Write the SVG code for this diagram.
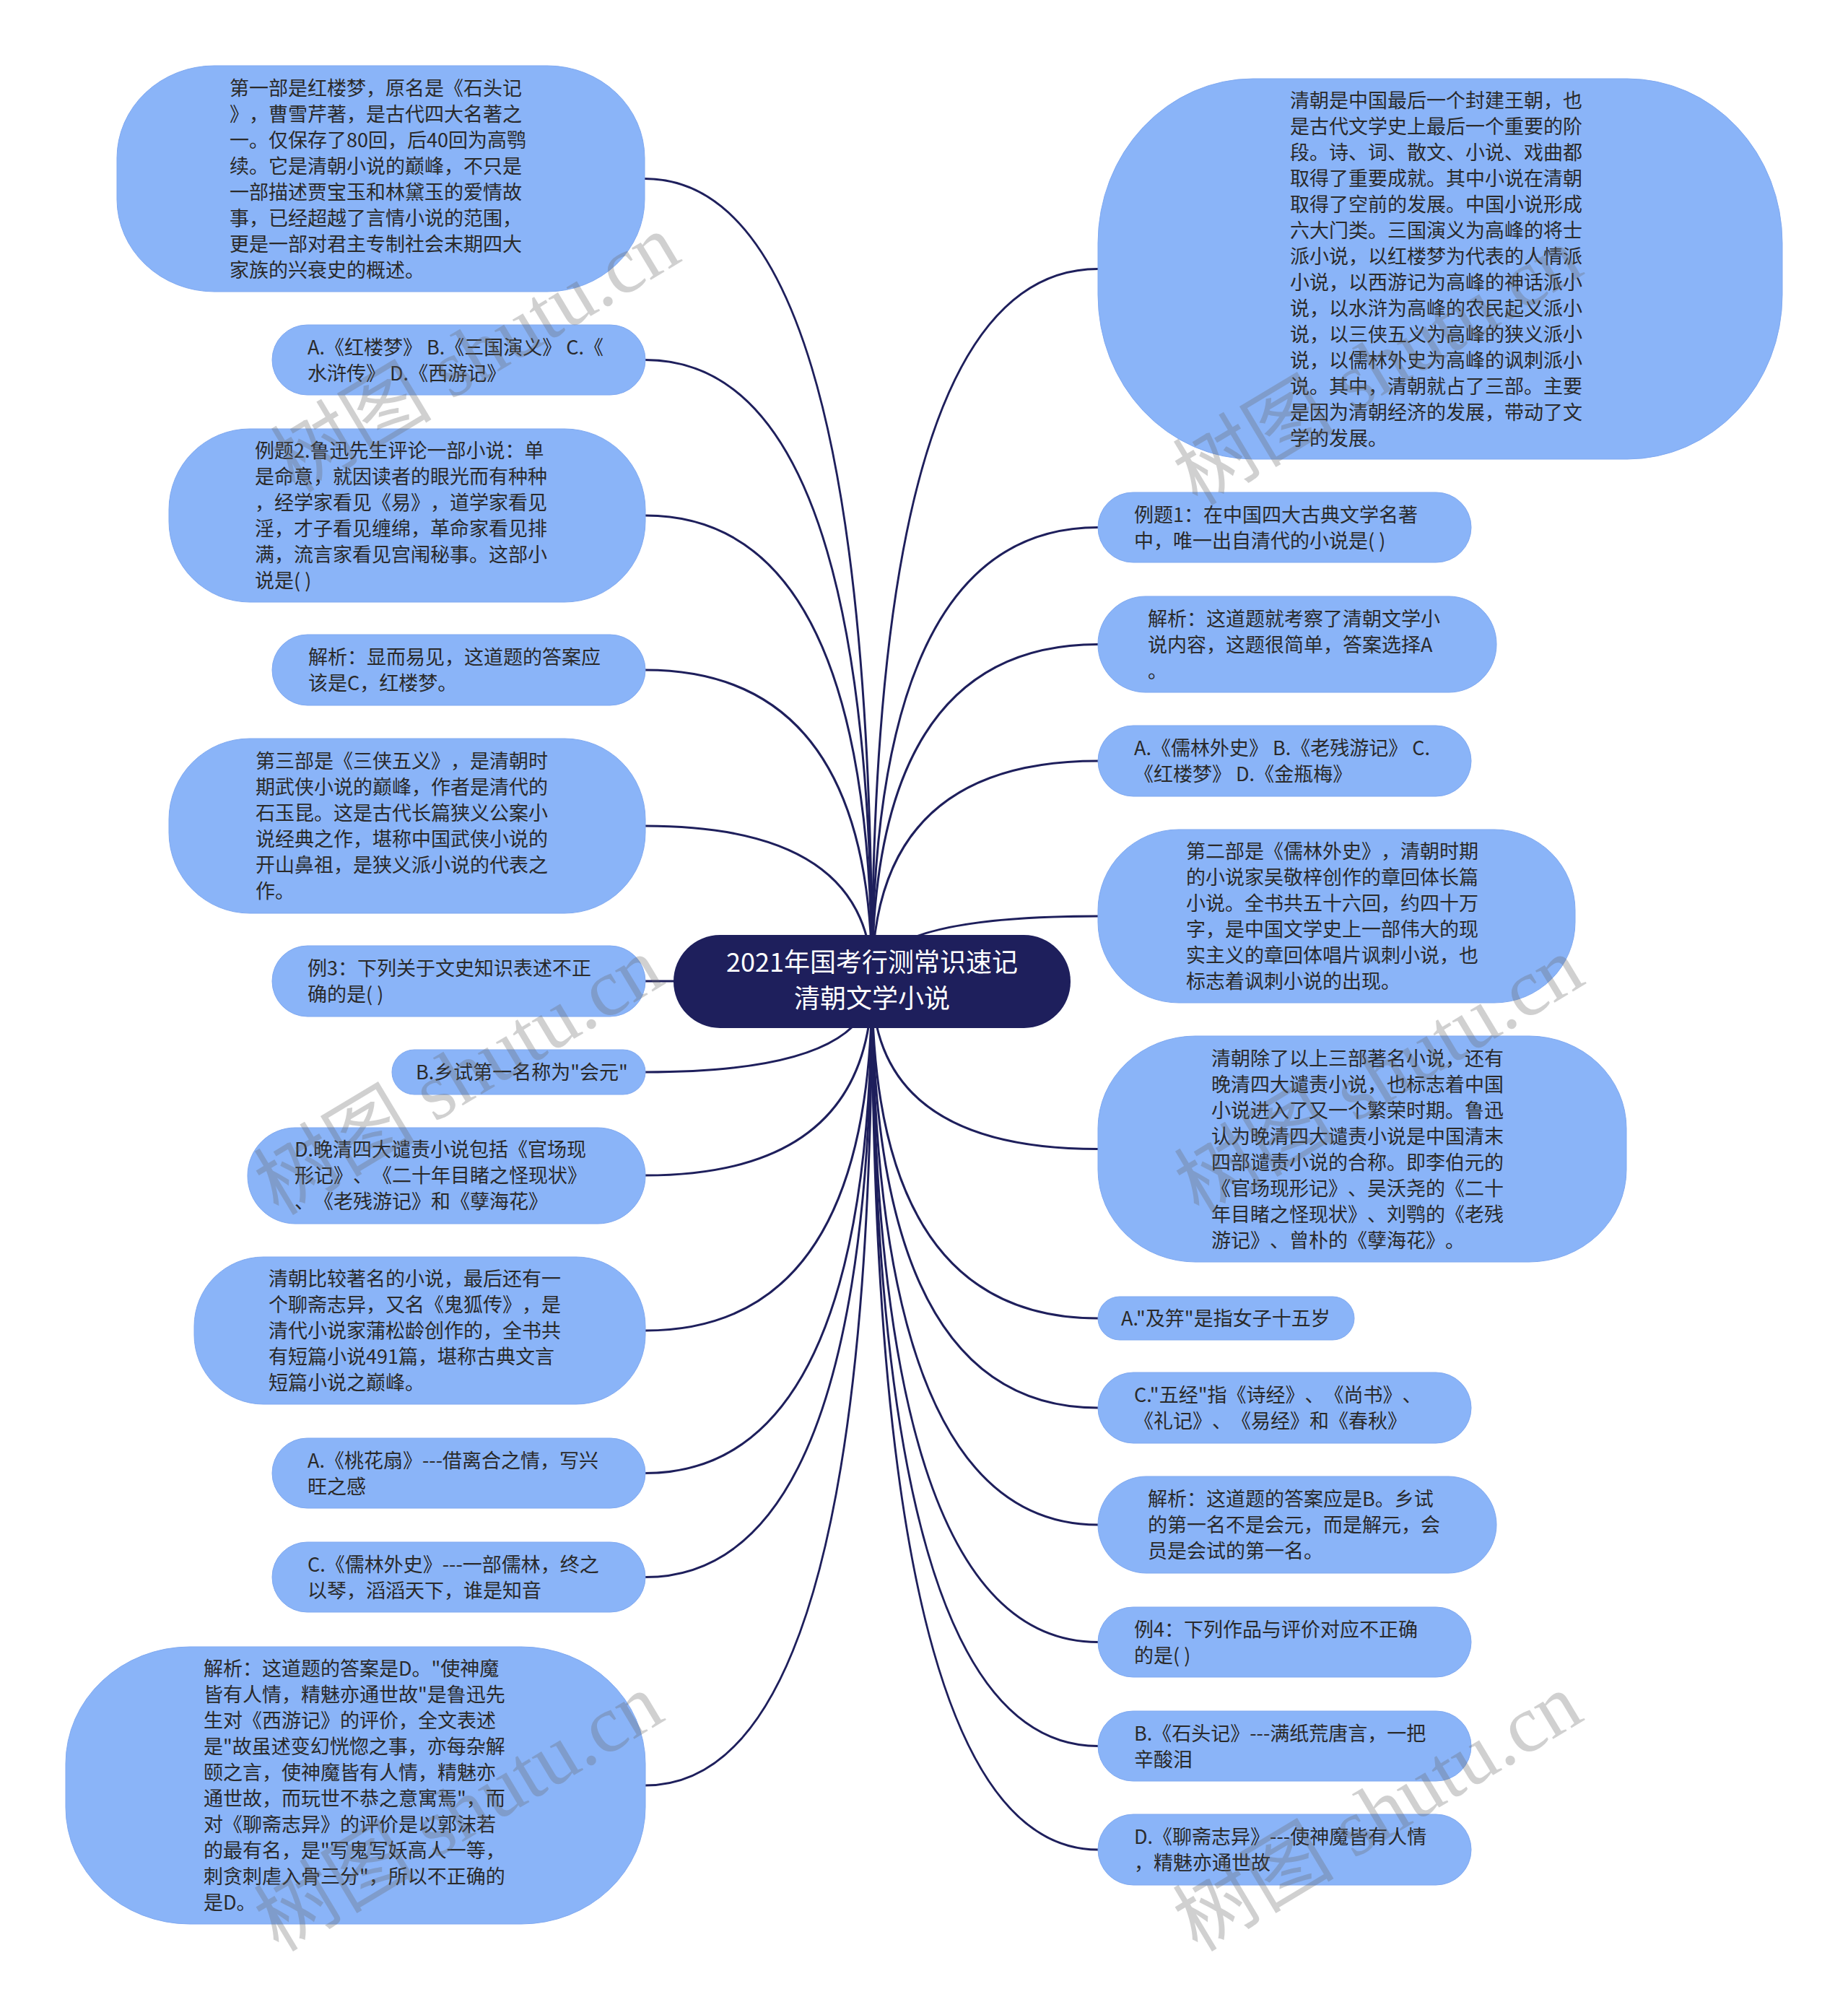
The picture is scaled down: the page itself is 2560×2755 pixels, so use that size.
<svg xmlns="http://www.w3.org/2000/svg" width="2560" height="2755" viewBox="0 0 2560 2755">
<style>
.node{fill:#8AB4F8;stroke:#80A9F0;stroke-width:1}
.t{font-family:"Noto Sans CJK SC","Liberation Sans",sans-serif;font-size:27px;fill:#2A2A2A;text-spacing-trim:space-all}
.root{fill:#1E1F5C}
.ct{font-family:"Noto Sans CJK SC","Liberation Sans",sans-serif;font-size:36px;fill:#FFFFFF;text-anchor:middle}
.edge{fill:none;stroke:#1E1F5C;stroke-width:3}
.wm{font-family:"Liberation Serif","Noto Sans CJK SC",serif;font-size:112px;fill:#666;opacity:0.3;text-anchor:middle}
</style>
<rect width="2560" height="2755" fill="#FFFFFF"/>
<g id="connectors">
<path class="edge" d="M1208 1359 Q1208 247.5 893 247.5"/>
<path class="edge" d="M1208 1359 Q1208 498.5 894 498.5"/>
<path class="edge" d="M1208 1359 Q1208 714 894 714"/>
<path class="edge" d="M1208 1359 Q1208 928 894 928"/>
<path class="edge" d="M1208 1359 Q1208 1144 894 1144"/>
<path class="edge" d="M1208 1359 Q1208 1359 894 1359"/>
<path class="edge" d="M1208 1359 Q1208 1485 894 1485"/>
<path class="edge" d="M1208 1359 Q1208 1628 894 1628"/>
<path class="edge" d="M1208 1359 Q1208 1843 894 1843"/>
<path class="edge" d="M1208 1359 Q1208 2040.5 894 2040.5"/>
<path class="edge" d="M1208 1359 Q1208 2184.5 894 2184.5"/>
<path class="edge" d="M1208 1359 Q1208 2473 894 2473"/>
<path class="edge" d="M1208 1359 Q1208 372.5 1521 372.5"/>
<path class="edge" d="M1208 1359 Q1208 730.5 1521 730.5"/>
<path class="edge" d="M1208 1359 Q1208 892.5 1521 892.5"/>
<path class="edge" d="M1208 1359 Q1208 1054 1521 1054"/>
<path class="edge" d="M1208 1359 Q1208 1269 1521 1269"/>
<path class="edge" d="M1208 1359 Q1208 1591.5 1521 1591.5"/>
<path class="edge" d="M1208 1359 Q1208 1826 1521 1826"/>
<path class="edge" d="M1208 1359 Q1208 1950 1521 1950"/>
<path class="edge" d="M1208 1359 Q1208 2112 1521 2112"/>
<path class="edge" d="M1208 1359 Q1208 2274.5 1521 2274.5"/>
<path class="edge" d="M1208 1359 Q1208 2418.5 1521 2418.5"/>
<path class="edge" d="M1208 1359 Q1208 2562 1521 2562"/>
</g>
<g id="root">
<rect class="root" x="933" y="1295" width="550" height="129" rx="64.5"/>
<text class="ct"><tspan x="1208" y="1346">2021年国考行测常识速记</tspan><tspan x="1208" y="1396">清朝文学小说</tspan></text>
</g>
<g id="L1">
<rect class="node" x="162" y="91" width="731" height="313" rx="135" ry="128"/>
<text class="t"><tspan x="318" y="131.5">第一部是红楼梦，原名是《石头记</tspan><tspan x="318" y="167.5">》，曹雪芹著，是古代四大名著之</tspan><tspan x="318" y="203.5">一。仅保存了80回，后40回为高鹗</tspan><tspan x="318" y="239.5">续。它是清朝小说的巅峰，不只是</tspan><tspan x="318" y="275.5">一部描述贾宝玉和林黛玉的爱情故</tspan><tspan x="318" y="311.5">事，已经超越了言情小说的范围，</tspan><tspan x="318" y="347.5">更是一部对君主专制社会末期四大</tspan><tspan x="318" y="383.5">家族的兴衰史的概述。</tspan></text>
</g>
<g id="L2">
<rect class="node" x="377" y="450" width="517" height="97" rx="48.5"/>
<text class="t"><tspan x="426" y="490.5">A.《红楼梦》 B.《三国演义》 C.《</tspan><tspan x="426" y="526.5">水浒传》 D.《西游记》</tspan></text>
</g>
<g id="L3">
<rect class="node" x="234" y="594" width="660" height="240" rx="112"/>
<text class="t"><tspan x="353" y="634">例题2.鲁迅先生评论一部小说：单</tspan><tspan x="353" y="670">是命意，就因读者的眼光而有种种</tspan><tspan x="353" y="706">，经学家看见《易》，道学家看见</tspan><tspan x="353" y="742">淫，才子看见缠绵，革命家看见排</tspan><tspan x="353" y="778">满，流言家看见宫闱秘事。这部小</tspan><tspan x="353" y="814">说是( )</tspan></text>
</g>
<g id="L4">
<rect class="node" x="377" y="879" width="517" height="98" rx="49"/>
<text class="t"><tspan x="427" y="920">解析：显而易见，这道题的答案应</tspan><tspan x="427" y="956">该是C，红楼梦。</tspan></text>
</g>
<g id="L5">
<rect class="node" x="234" y="1023" width="660" height="242" rx="112"/>
<text class="t"><tspan x="354" y="1064">第三部是《三侠五义》，是清朝时</tspan><tspan x="354" y="1100">期武侠小说的巅峰，作者是清代的</tspan><tspan x="354" y="1136">石玉昆。这是古代长篇狭义公案小</tspan><tspan x="354" y="1172">说经典之作，堪称中国武侠小说的</tspan><tspan x="354" y="1208">开山鼻祖，是狭义派小说的代表之</tspan><tspan x="354" y="1244">作。</tspan></text>
</g>
<g id="L6">
<rect class="node" x="377" y="1310" width="517" height="98" rx="49"/>
<text class="t"><tspan x="426" y="1351">例3：下列关于文史知识表述不正</tspan><tspan x="426" y="1387">确的是( )</tspan></text>
</g>
<g id="L7">
<rect class="node" x="543" y="1454" width="351" height="62" rx="31"/>
<text class="t"><tspan x="576" y="1495">B.乡试第一名称为"会元"</tspan></text>
</g>
<g id="L8">
<rect class="node" x="343" y="1562" width="551" height="133" rx="66"/>
<text class="t"><tspan x="408" y="1602">D.晚清四大谴责小说包括《官场现</tspan><tspan x="408" y="1638">形记》、《二十年目睹之怪现状》</tspan><tspan x="408" y="1674">、《老残游记》和《孽海花》</tspan></text>
</g>
<g id="L9">
<rect class="node" x="269" y="1741" width="625" height="204" rx="96"/>
<text class="t"><tspan x="372" y="1781">清朝比较著名的小说，最后还有一</tspan><tspan x="372" y="1817">个聊斋志异，又名《鬼狐传》，是</tspan><tspan x="372" y="1853">清代小说家蒲松龄创作的，全书共</tspan><tspan x="372" y="1889">有短篇小说491篇，堪称古典文言</tspan><tspan x="372" y="1925">短篇小说之巅峰。</tspan></text>
</g>
<g id="L10">
<rect class="node" x="377" y="1992" width="517" height="97" rx="48.5"/>
<text class="t"><tspan x="426" y="2032.5">A.《桃花扇》---借离合之情，写兴</tspan><tspan x="426" y="2068.5">旺之感</tspan></text>
</g>
<g id="L11">
<rect class="node" x="377" y="2136" width="517" height="97" rx="48.5"/>
<text class="t"><tspan x="426" y="2176.5">C.《儒林外史》---一部儒林，终之</tspan><tspan x="426" y="2212.5">以琴，滔滔天下，谁是知音</tspan></text>
</g>
<g id="L12">
<rect class="node" x="91" y="2281" width="803" height="384" rx="172" ry="162"/>
<text class="t"><tspan x="282" y="2321">解析：这道题的答案是D。"使神魔</tspan><tspan x="282" y="2357">皆有人情，精魅亦通世故"是鲁迅先</tspan><tspan x="282" y="2393">生对《西游记》的评价，全文表述</tspan><tspan x="282" y="2429">是"故虽述变幻恍惚之事，亦每杂解</tspan><tspan x="282" y="2465">颐之言，使神魔皆有人情，精魅亦</tspan><tspan x="282" y="2501">通世故，而玩世不恭之意寓焉"，而</tspan><tspan x="282" y="2537">对《聊斋志异》的评价是以郭沫若</tspan><tspan x="282" y="2573">的最有名，是"写鬼写妖高人一等，</tspan><tspan x="282" y="2609">刺贪刺虐入骨三分"，所以不正确的</tspan><tspan x="282" y="2645">是D。</tspan></text>
</g>
<g id="R1">
<rect class="node" x="1521" y="109" width="948" height="527" rx="215" ry="228"/>
<text class="t"><tspan x="1787" y="148.5">清朝是中国最后一个封建王朝，也</tspan><tspan x="1787" y="184.5">是古代文学史上最后一个重要的阶</tspan><tspan x="1787" y="220.5">段。诗、词、散文、小说、戏曲都</tspan><tspan x="1787" y="256.5">取得了重要成就。其中小说在清朝</tspan><tspan x="1787" y="292.5">取得了空前的发展。中国小说形成</tspan><tspan x="1787" y="328.5">六大门类。三国演义为高峰的将士</tspan><tspan x="1787" y="364.5">派小说，以红楼梦为代表的人情派</tspan><tspan x="1787" y="400.5">小说，以西游记为高峰的神话派小</tspan><tspan x="1787" y="436.5">说，以水浒为高峰的农民起义派小</tspan><tspan x="1787" y="472.5">说，以三侠五义为高峰的狭义派小</tspan><tspan x="1787" y="508.5">说，以儒林外史为高峰的讽刺派小</tspan><tspan x="1787" y="544.5">说。其中，清朝就占了三部。主要</tspan><tspan x="1787" y="580.5">是因为清朝经济的发展，带动了文</tspan><tspan x="1787" y="616.5">学的发展。</tspan></text>
</g>
<g id="R2">
<rect class="node" x="1521" y="682" width="517" height="97" rx="48.5"/>
<text class="t"><tspan x="1571" y="722.5">例题1：在中国四大古典文学名著</tspan><tspan x="1571" y="758.5">中，唯一出自清代的小说是( )</tspan></text>
</g>
<g id="R3">
<rect class="node" x="1521" y="826" width="552" height="133" rx="66"/>
<text class="t"><tspan x="1590" y="866.5">解析：这道题就考察了清朝文学小</tspan><tspan x="1590" y="902.5">说内容，这题很简单，答案选择A</tspan><tspan x="1590" y="938.5">。</tspan></text>
</g>
<g id="R4">
<rect class="node" x="1521" y="1005" width="517" height="98" rx="49"/>
<text class="t"><tspan x="1571" y="1046">A.《儒林外史》 B.《老残游记》 C.</tspan><tspan x="1571" y="1082">《红楼梦》 D.《金瓶梅》</tspan></text>
</g>
<g id="R5">
<rect class="node" x="1521" y="1149" width="661" height="240" rx="112"/>
<text class="t"><tspan x="1643" y="1189">第二部是《儒林外史》，清朝时期</tspan><tspan x="1643" y="1225">的小说家吴敬梓创作的章回体长篇</tspan><tspan x="1643" y="1261">小说。全书共五十六回，约四十万</tspan><tspan x="1643" y="1297">字，是中国文学史上一部伟大的现</tspan><tspan x="1643" y="1333">实主义的章回体唱片讽刺小说，也</tspan><tspan x="1643" y="1369">标志着讽刺小说的出现。</tspan></text>
</g>
<g id="R6">
<rect class="node" x="1521" y="1435" width="732" height="313" rx="135" ry="128"/>
<text class="t"><tspan x="1678" y="1475.5">清朝除了以上三部著名小说，还有</tspan><tspan x="1678" y="1511.5">晚清四大谴责小说，也标志着中国</tspan><tspan x="1678" y="1547.5">小说进入了又一个繁荣时期。鲁迅</tspan><tspan x="1678" y="1583.5">认为晚清四大谴责小说是中国清末</tspan><tspan x="1678" y="1619.5">四部谴责小说的合称。即李伯元的</tspan><tspan x="1678" y="1655.5">《官场现形记》、吴沃尧的《二十</tspan><tspan x="1678" y="1691.5">年目睹之怪现状》、刘鹗的《老残</tspan><tspan x="1678" y="1727.5">游记》、曾朴的《孽海花》。</tspan></text>
</g>
<g id="R7">
<rect class="node" x="1521" y="1796" width="355" height="60" rx="30"/>
<text class="t"><tspan x="1553" y="1836">A."及笄"是指女子十五岁</tspan></text>
</g>
<g id="R8">
<rect class="node" x="1521" y="1901" width="517" height="98" rx="49"/>
<text class="t"><tspan x="1571" y="1942">C."五经"指《诗经》、《尚书》、</tspan><tspan x="1571" y="1978">《礼记》、《易经》和《春秋》</tspan></text>
</g>
<g id="R9">
<rect class="node" x="1521" y="2045" width="552" height="134" rx="67"/>
<text class="t"><tspan x="1590" y="2086">解析：这道题的答案应是B。乡试</tspan><tspan x="1590" y="2122">的第一名不是会元，而是解元，会</tspan><tspan x="1590" y="2158">员是会试的第一名。</tspan></text>
</g>
<g id="R10">
<rect class="node" x="1521" y="2226" width="517" height="97" rx="48.5"/>
<text class="t"><tspan x="1571" y="2266.5">例4：下列作品与评价对应不正确</tspan><tspan x="1571" y="2302.5">的是( )</tspan></text>
</g>
<g id="R11">
<rect class="node" x="1521" y="2370" width="517" height="97" rx="48.5"/>
<text class="t"><tspan x="1571" y="2410.5">B.《石头记》---满纸荒唐言，一把</tspan><tspan x="1571" y="2446.5">辛酸泪</tspan></text>
</g>
<g id="R12">
<rect class="node" x="1521" y="2513" width="517" height="98" rx="49"/>
<text class="t"><tspan x="1571" y="2554">D.《聊斋志异》---使神魔皆有人情</tspan><tspan x="1571" y="2590">，精魅亦通世故</tspan></text>
</g>
<g id="watermarks">
<text class="wm" transform="translate(678 522) rotate(-31)">树图 shutu.cn</text>
<text class="wm" transform="translate(1928 540) rotate(-31)">树图 shutu.cn</text>
<text class="wm" transform="translate(655 1523) rotate(-31)">树图 shutu.cn</text>
<text class="wm" transform="translate(1930 1523) rotate(-31)">树图 shutu.cn</text>
<text class="wm" transform="translate(655 2543) rotate(-31)">树图 shutu.cn</text>
<text class="wm" transform="translate(1928 2543) rotate(-31)">树图 shutu.cn</text>
</g>
</svg>
